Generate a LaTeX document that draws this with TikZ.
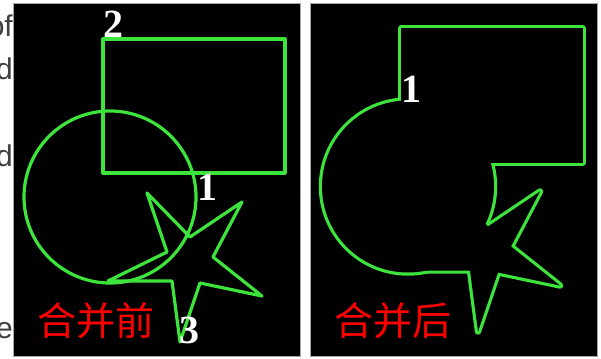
\documentclass[tikz,border=0pt]{standalone}
\usepackage{fontspec}
\setmainfont{Liberation Serif}
\newfontfamily\cjk{Noto Sans CJK SC}
\newfontfamily\sidefont{Liberation Sans}
\definecolor{lgreen}{RGB}{60,228,60}
\newcommand{\rectpath}{(103,39) rectangle (285,173)}
\newcommand{\circpath}{(110,197) circle[radius=86]}
\newcommand{\starpath}{(108,281) -- (167,252) -- (147,193) -- (190,237) -- (242,202) -- (213,257) -- (262,296) -- (200,283) -- (180,342) -- (172,281) -- cycle}
\begin{document}
\begin{tikzpicture}[x=1pt,y=-1pt,
  shapeline/.style={draw=lgreen, line width=3.2pt, line join=round},
  unionline/.style={draw=lgreen, line width=6.4pt, line join=round},
  digit/.style={text=white, font=\fontsize{40}{40}\selectfont\bfseries, inner sep=0pt},
  captext/.style={text=red, font=\cjk\fontsize{39}{39}\selectfont, inner sep=0pt},
  side/.style={text=black!75, font=\sidefont\fontsize{30}{30}\selectfont, inner sep=0pt, anchor=base east},
  panel/.style={fill=black, draw=black!35, line width=1pt}]
\useasboundingbox (0,0) rectangle (601,358);
\fill[white] (0,0) rectangle (601,358);
% clipped text behind the panels
\begin{scope}
  \clip (0,0) rectangle (13.5,358);
  \node[side] (t1) at (13,37) {of};
  \node[side] (t2) at (13,80) {d};
  \node[side] (t3) at (13,166) {d};
  \node[side] (t4) at (13,338) {e};
\end{scope}
% panels
\draw[panel] (13.5,3.5) rectangle (300.5,356.5);
\draw[panel] (310.5,3.5) rectangle (597,356.5);
% left panel: before merging
\draw[shapeline] \rectpath;
\draw[shapeline] \circpath;
\draw[shapeline] \starpath;
\node[digit] (n2) at (113,24) {2};
\node[digit] (n1a) at (207,187) {1};
\node[digit] (n3) at (189,330) {3};
\node[captext] (c1) at (96,321) {合并前};
% right panel: after merging (union outline)
\begin{scope}[shift={(298,-10.5)}]
  \draw[unionline] \rectpath;
  \draw[unionline] \circpath;
  \draw[unionline] \starpath;
  \fill[black] \rectpath;
  \fill[black] \circpath;
  \fill[black] \starpath;
\end{scope}
\node[digit] (n1b) at (411,89) {1};
\node[captext] (c2) at (393,321) {合并后};
\end{tikzpicture}
\end{document}
